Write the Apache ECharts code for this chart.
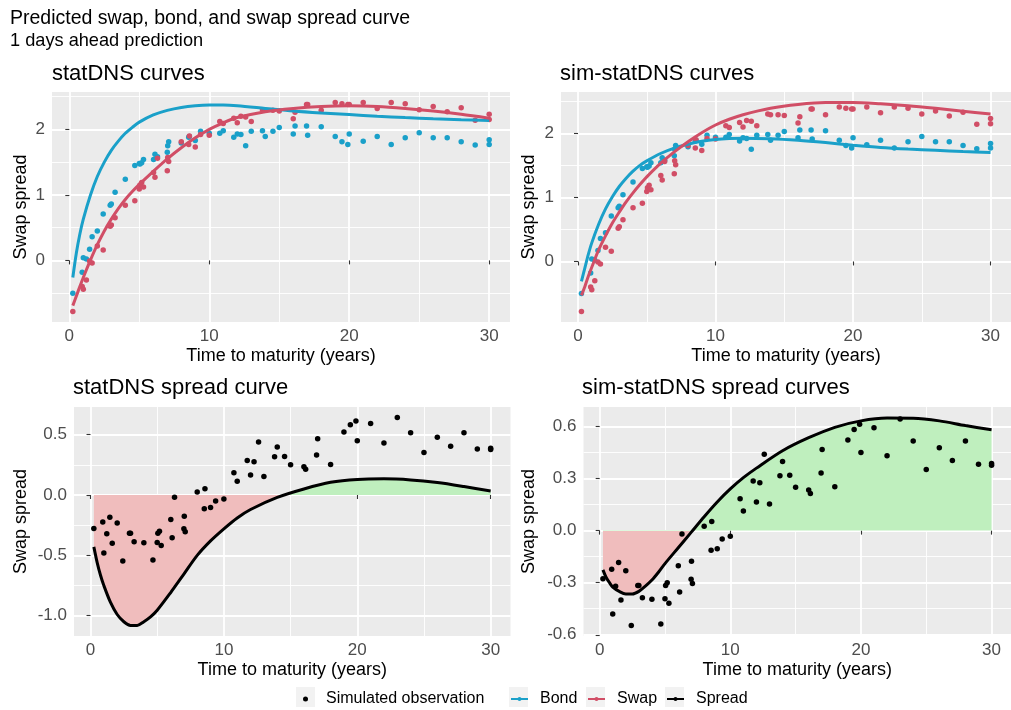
<!DOCTYPE html>
<html>
<head>
<meta charset="utf-8">
<script src="https://cdn.jsdelivr.net/npm/echarts@6/dist/echarts.min.js"></script>
<style>
  html, body { margin: 0; padding: 0; background: #ffffff; }
  #chart { width: 1011px; height: 710px; }
</style>
</head>
<body>
<div id="chart"></div>
<script>
// Simulated observations (maturity in years)
const obsMaturity = [0.25, 0.92, 1.0, 1.22, 1.45, 1.63, 2.0, 2.42, 2.92, 3.0,
  3.27, 4.0, 4.68, 5.0, 5.05, 5.17, 5.3, 6.02, 6.12, 6.3,
  7.0, 7.03, 7.1, 8.0, 8.53, 8.58, 9.0, 9.38, 10.0, 10.75,
  11.0, 11.75, 12.0, 12.26, 12.6, 13.0, 13.8, 14.0, 14.55, 15.0,
  16.0, 16.13, 16.95, 17.03, 18.0, 19.0, 19.48, 19.9, 20.0, 21,
  22, 23, 24, 25, 26, 27, 28, 29, 30, 30];
const bondObs = [-0.50, -0.18, 0.04, 0.02, 0.17, 0.36, 0.45, 0.71, 0.84, 0.86,
  1.04, 1.24, 1.45, 1.48, 1.47, 1.49, 1.54, 1.54, 1.62, 1.58,
  1.65, 1.75, 1.81, 1.79, 1.88, 1.89, 1.83, 1.97, 1.94, 1.94,
  1.98, 1.88, 1.93, 1.92, 1.75, 1.97, 1.98, 1.89, 1.97, 2.03,
  1.93, 2.05, 2.05, 1.91, 2.04, 1.89, 1.81, 1.77, 1.93, 1.82,
  1.89, 1.77, 1.87, 1.95, 1.87, 1.87, 1.81, 1.76, 1.84, 1.77];
const swapObs = [-0.78, -0.40, -0.44, -0.30, -0.01, -0.04, 0.22, 0.16, 0.52, 0.54,
  0.65, 0.84, 0.91, 1.09, 1.15, 1.19, 1.12, 1.34, 1.27, 1.56,
  1.37, 1.57, 1.51, 1.81, 1.77, 1.90, 1.73, 1.92, 1.91, 2.12,
  2.09, 2.17, 2.10, 2.20, 2.19, 2.12, 2.30, 2.29, 2.29, 2.28,
  2.16, 2.26, 2.38, 2.38, 2.29, 2.41, 2.39, 2.38, 2.38, 2.41,
  2.32, 2.41, 2.39, 2.30, 2.35, 2.27, 2.33, 2.14, 2.23, 2.15];
const spreadObs = [-0.277, -0.223, -0.48, -0.32, -0.184, -0.40, -0.231, -0.547, -0.316, -0.316,
  -0.387, -0.396, -0.538, -0.393, -0.316, -0.30, -0.418, -0.203, -0.354, -0.019,
  -0.28, -0.176, -0.305, 0.025, -0.113, 0.052, -0.104, -0.049, -0.033, 0.184,
  0.113, 0.286, 0.165, 0.275, 0.44, 0.154, 0.316, 0.398, 0.319, 0.25,
  0.234, 0.214, 0.332, 0.467, 0.253, 0.522, 0.582, 0.613, 0.45, 0.593,
  0.431, 0.643, 0.516, 0.352, 0.478, 0.404, 0.516, 0.382, 0.387, 0.376];

// Fitted curves, evaluated on a common maturity grid
const curveMaturity = [0.25, 0.5, 0.75, 1, 1.5, 2, 2.5, 3, 3.5, 4, 4.5, 5, 6, 7, 8, 9, 10,
  11, 12, 14, 16, 18, 20, 22, 24, 26, 28, 30];
const statBond = [-0.26, 0.11, 0.40, 0.63, 0.99, 1.28, 1.50, 1.68, 1.82, 1.94, 2.03, 2.11, 2.22, 2.29, 2.335, 2.36, 2.37,
  2.37, 2.36, 2.32, 2.28, 2.25, 2.225, 2.20, 2.18, 2.163, 2.148, 2.135];
const statSwap = [-0.69, -0.545, -0.40, -0.26, 0.0, 0.24, 0.45, 0.63, 0.79, 0.93, 1.05, 1.16, 1.36, 1.55, 1.72, 1.87, 2.0,
  2.10, 2.18, 2.27, 2.32, 2.35, 2.36, 2.35, 2.32, 2.28, 2.23, 2.17];
const statSpread = [-0.43, -0.56, -0.665, -0.75, -0.89, -0.99, -1.05, -1.08, -1.08, -1.05, -1.01, -0.955, -0.81, -0.655, -0.50, -0.38, -0.28,
  -0.19, -0.12, -0.02, 0.05, 0.105, 0.129, 0.134, 0.125, 0.103, 0.07, 0.033];
const simBond = [-0.31, -0.10, 0.11, 0.29, 0.58, 0.82, 1.01, 1.17, 1.30, 1.41, 1.50, 1.57, 1.685, 1.77, 1.83, 1.875, 1.905,
  1.92, 1.925, 1.915, 1.89, 1.855, 1.815, 1.78, 1.755, 1.735, 1.715, 1.70];
const simSwap = [-0.53, -0.39, -0.23, -0.09, 0.18, 0.40, 0.60, 0.77, 0.93, 1.07, 1.20, 1.32, 1.53, 1.71, 1.87, 2.01, 2.13,
  2.22, 2.29, 2.39, 2.45, 2.48, 2.48, 2.46, 2.43, 2.39, 2.345, 2.30];
const simSpread = [-0.226, -0.27, -0.30, -0.325, -0.35, -0.365, -0.365, -0.35, -0.32, -0.285, -0.24, -0.19, -0.10, -0.01, 0.08, 0.165, 0.24,
  0.305, 0.36, 0.46, 0.535, 0.595, 0.632, 0.648, 0.647, 0.632, 0.605, 0.581];

// Tick positions
const xMajor = [0, 10, 20, 30];
const xMinor = [5, 15, 25];
const rateMajor = [0, 1, 2];
const rateMinor = [-0.5, 0.5, 1.5, 2.5];
const statSpreadMajor = [-1, -0.5, 0, 0.5];
const statSpreadMinor = [-0.75, -0.25, 0.25];
const simSpreadMajor = [-0.6, -0.3, 0, 0.3, 0.6];
const simSpreadMinor = [-0.45, -0.15, 0.15, 0.45];

const panelTitles = ['statDNS curves', 'sim-statDNS curves', 'statDNS spread curve', 'sim-statDNS spread curves'];
const legendNames = ['Simulated observation', 'Bond', 'Swap', 'Spread'];

const BLUE = '#1AA0C9';
const RED = '#D14E66';
const FONT = '"Liberation Sans", Arial, sans-serif';

const pairs = (xs, ys) => xs.map((x, i) => [x, ys[i]]);

const grids = [
  { left: 52, top: 92, width: 458, height: 230 },
  { left: 561, top: 92, width: 458, height: 230 },
  { left: 74, top: 407, width: 436.5, height: 229 },
  { left: 583.5, top: 407, width: 436.5, height: 229 }
].map(g => Object.assign({ show: true, backgroundColor: '#EBEBEB', borderWidth: 0, containLabel: false }, g));

const X_MIN = -1.2375, X_MAX = 31.4875;

function majorAxisBase(major, fmt) {
  return {
    type: 'value',
    axisLine: { show: false },
    axisTick: { show: true, length: 4, lineStyle: { color: '#333333', width: 1.1 }, customValues: major },
    axisLabel: { customValues: major, color: '#4D4D4D', fontSize: 17, fontFamily: FONT, formatter: fmt },
    splitLine: { show: true, lineStyle: { color: '#FFFFFF', width: 1.8 } }
  };
}
function minorAxisBase(minor) {
  return {
    type: 'value',
    axisLine: { show: false },
    axisTick: { show: false, customValues: minor },
    axisLabel: { show: false, customValues: minor },
    splitLine: { show: true, lineStyle: { color: '#FFFFFF', width: 0.9 } }
  };
}

const xAxis = [];
const yAxis = [];
const yRanges = [[-0.94, 2.57], [-0.945, 2.645], [-1.168, 0.729], [-0.607, 0.712]];
const yMajor = [rateMajor, rateMajor, statSpreadMajor, simSpreadMajor];
const yMinor = [rateMinor, rateMinor, statSpreadMinor, simSpreadMinor];
const yFmt = [v => String(Math.round(v)), v => String(Math.round(v)), v => v.toFixed(1), v => v.toFixed(1)];
const yNameGap = [22, 23, 44, 45];

for (let g = 0; g < 4; g++) {
  const xm = majorAxisBase(xMajor, v => String(v));
  xm.axisLabel.margin = 5.5;
  xAxis.push(Object.assign(xm, {
    gridIndex: g, min: X_MIN, max: X_MAX,
    name: 'Time to maturity (years)', nameLocation: 'middle', nameGap: 25,
    nameTextStyle: { color: '#000000', fontSize: 18, fontFamily: FONT }
  }));
  xAxis.push(Object.assign(minorAxisBase(xMinor), { gridIndex: g, min: X_MIN, max: X_MAX }));

  const ym = majorAxisBase(yMajor[g], yFmt[g]);
  ym.axisLabel.margin = 7;
  yAxis.push(Object.assign(ym, {
    gridIndex: g, min: yRanges[g][0], max: yRanges[g][1],
    name: 'Swap spread', nameLocation: 'middle', nameGap: yNameGap[g],
    nameTextStyle: { color: '#000000', fontSize: 18, fontFamily: FONT }
  }));
  yAxis.push(Object.assign(minorAxisBase(yMinor[g]), { gridIndex: g, min: yRanges[g][0], max: yRanges[g][1] }));
}

function scatter(g, name, ys, color) {
  return {
    type: 'scatter', name: name, xAxisIndex: 2 * g, yAxisIndex: 2 * g,
    data: pairs(obsMaturity, ys), symbol: 'circle', symbolSize: 5.5,
    itemStyle: { color: color, opacity: 1 }, z: 3, silent: true
  };
}
function curve(g, name, ys, color) {
  return {
    type: 'line', name: name, xAxisIndex: 2 * g, yAxisIndex: 2 * g,
    data: pairs(curveMaturity, ys), smooth: 0.3,
    symbol: 'circle', showSymbol: false, symbolSize: 4,
    lineStyle: { color: color, width: 3 }, itemStyle: { color: color }, z: 5, silent: true
  };
}
function fill(g, ys) {
  return {
    type: 'line', name: 'fill' + g, xAxisIndex: 2 * g, yAxisIndex: 2 * g,
    data: pairs(curveMaturity, ys), smooth: 0.3, showSymbol: false,
    lineStyle: { width: 0, opacity: 0 }, areaStyle: { opacity: 1, origin: 0 }, z: 2, silent: true
  };
}

const series = [
  scatter(0, 'Bond observation', bondObs, BLUE),
  scatter(0, 'Swap observation', swapObs, RED),
  curve(0, 'Bond', statBond, BLUE),
  curve(0, 'Swap', statSwap, RED),
  scatter(1, 'Bond observation', bondObs, BLUE),
  scatter(1, 'Swap observation', swapObs, RED),
  curve(1, 'Bond', simBond, BLUE),
  curve(1, 'Swap', simSwap, RED),
  fill(2, statSpread),
  scatter(2, 'Simulated observation', spreadObs, '#000000'),
  curve(2, 'Spread', statSpread, '#000000'),
  fill(3, simSpread),
  scatter(3, 'Simulated observation', spreadObs, '#000000'),
  curve(3, 'Spread', simSpread, '#000000')
];

// Area below zero is tinted red, above zero green
const spreadPieces = [
  { gte: -5, lt: 0, color: '#F0BDBD' },
  { gte: 0, lte: 5, color: '#BFEFBE' }
];
const visualMap = [8, 11].map(idx => ({
  type: 'piecewise', show: false, dimension: 1, seriesIndex: idx, pieces: spreadPieces
}));

const titleStyle = { color: '#000000', fontFamily: FONT, fontWeight: 'normal' };
const title = [
  { text: 'Predicted swap, bond, and swap spread curve', left: 10, top: 9, padding: 0,
    textStyle: Object.assign({ fontSize: 19.5 }, titleStyle) },
  { text: '1 days ahead prediction', left: 10, top: 32, padding: 0,
    textStyle: Object.assign({ fontSize: 18.2 }, titleStyle) },
  { text: panelTitles[0], left: 52, top: 63, padding: 0, textStyle: Object.assign({ fontSize: 22 }, titleStyle) },
  { text: panelTitles[1], left: 560, top: 63, padding: 0, textStyle: Object.assign({ fontSize: 22 }, titleStyle) },
  { text: panelTitles[2], left: 73, top: 377, padding: 0, textStyle: Object.assign({ fontSize: 22 }, titleStyle) },
  { text: panelTitles[3], left: 582, top: 377, padding: 0, textStyle: Object.assign({ fontSize: 22 }, titleStyle) }
];

// Legend: one box per entry so each key sits on its own grey key background
const keyCenters = [305.5, 518.5, 595.5, 674.5];
const legend = legendNames.map((name, i) => {
  const w = i === 0 ? 5 : 17;
  return {
    data: [i === 0 ? { name: name, icon: 'circle' } : { name: name }],
    left: keyCenters[i] - w / 2, top: 691, padding: 0, orient: 'horizontal',
    itemWidth: w, itemHeight: 5, selectedMode: false, z: 10,
    textStyle: { color: '#000000', fontSize: 16, fontFamily: FONT, padding: [0, 0, 0, i === 0 ? 13 : 7] }
  };
});
const keyBoxes = keyCenters.map(c => ({
  type: 'rect', left: c - 9.5, top: 687, z: 1,
  shape: { width: 19, height: 20 }, style: { fill: '#F2F2F2' }
}));

const chart = echarts.init(document.getElementById('chart'), null, { renderer: 'canvas' });
chart.setOption({
  animation: false,
  backgroundColor: '#FFFFFF',
  textStyle: { fontFamily: FONT },
  title: title,
  legend: legend,
  graphic: { elements: keyBoxes },
  grid: grids,
  xAxis: xAxis,
  yAxis: yAxis,
  visualMap: visualMap,
  series: series
});
</script>
</body>
</html>
